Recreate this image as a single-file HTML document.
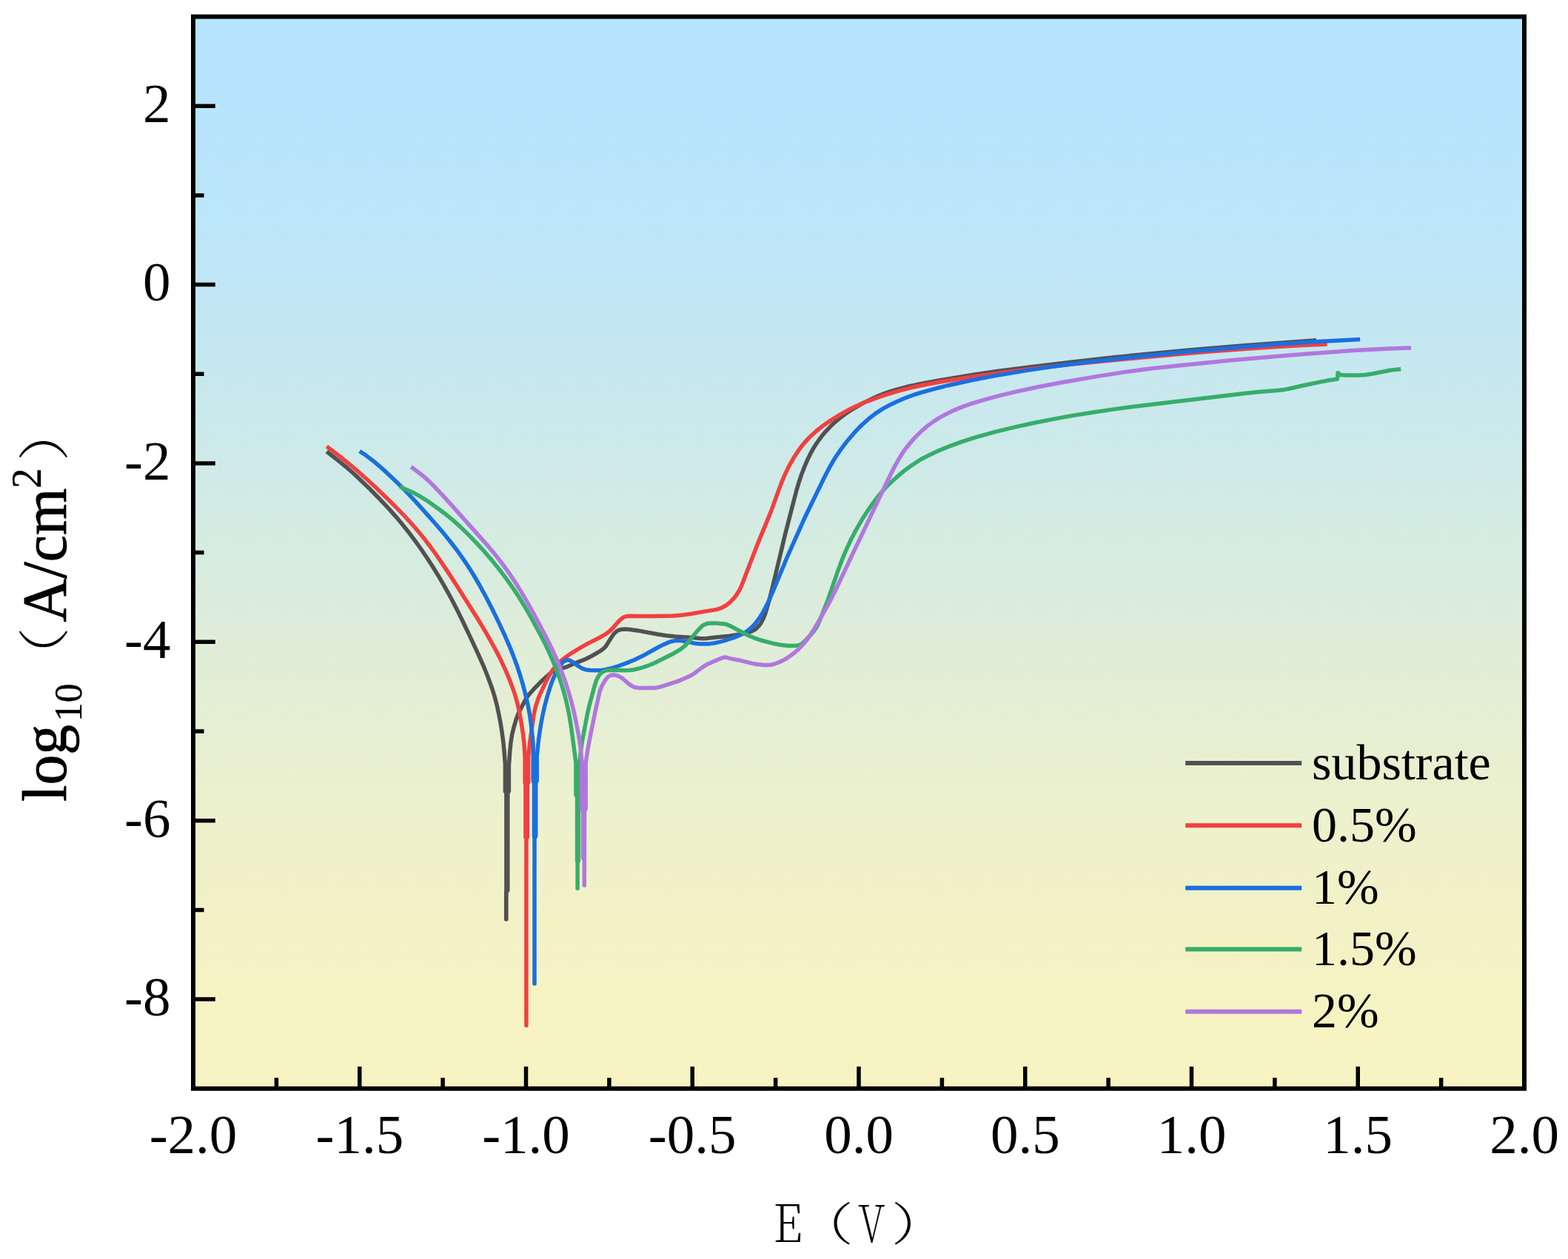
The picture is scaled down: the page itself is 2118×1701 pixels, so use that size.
<!DOCTYPE html>
<html lang="en">
<head>
<meta charset="utf-8">
<title>Polarization curves</title>
<style>
html,body{margin:0;padding:0;background:#fff;}
body{width:2118px;height:1701px;overflow:hidden;}
svg{display:block;}
text{font-family:"Liberation Serif","Noto Serif CJK SC",serif;fill:#000;}
.tk{font-size:75px;}
.lg{font-size:68px;}
.yl{font-size:81.5px;stroke:#000;stroke-width:0.8px;stroke-linejoin:round;}
.yp{font-family:"Noto Serif CJK SC","Liberation Serif",serif;font-weight:200;font-size:67.6px;}
.xl{font-family:"Noto Serif CJK SC","Liberation Serif",serif;font-weight:200;}
.crv{fill:none;stroke-width:5.5;stroke-linejoin:round;stroke-linecap:butt;}
</style>
</head>
<body>
<svg width="2118" height="1701" viewBox="0 0 2118 1701">
<defs><linearGradient id="bg" x1="0" y1="0" x2="0" y2="1">
<stop offset="0.0000" stop-color="#B6E4FF"/>
<stop offset="0.0417" stop-color="#B6E4FF"/>
<stop offset="0.0833" stop-color="#B7E4FE"/>
<stop offset="0.1250" stop-color="#B9E5FC"/>
<stop offset="0.1667" stop-color="#BBE5FA"/>
<stop offset="0.2083" stop-color="#BDE6F8"/>
<stop offset="0.2500" stop-color="#C0E6F5"/>
<stop offset="0.2917" stop-color="#C3E7F2"/>
<stop offset="0.3333" stop-color="#C7E8EF"/>
<stop offset="0.3750" stop-color="#CBE9EC"/>
<stop offset="0.4167" stop-color="#CEEAE8"/>
<stop offset="0.4583" stop-color="#D2EBE4"/>
<stop offset="0.5000" stop-color="#D6ECE0"/>
<stop offset="0.5417" stop-color="#DBECDD"/>
<stop offset="0.5833" stop-color="#DFEDD9"/>
<stop offset="0.6250" stop-color="#E2EED5"/>
<stop offset="0.6667" stop-color="#E6EFD2"/>
<stop offset="0.7083" stop-color="#EAF0CF"/>
<stop offset="0.7500" stop-color="#EDF1CC"/>
<stop offset="0.7917" stop-color="#F0F1C9"/>
<stop offset="0.8333" stop-color="#F2F2C7"/>
<stop offset="0.8750" stop-color="#F4F2C5"/>
<stop offset="0.9167" stop-color="#F6F3C3"/>
<stop offset="0.9583" stop-color="#F7F3C2"/>
<stop offset="1.0000" stop-color="#F7F3C2"/>
</linearGradient></defs>
<rect x="0" y="0" width="2118" height="1701" fill="#ffffff"/>
<rect x="261.0" y="22.5" width="1798.0" height="1448.25" fill="url(#bg)"/>
<path class="crv" stroke="#515151" d="M441.3 610.0 L455.8 621.3 L468.1 631.4 L476.6 638.8 L488.2 649.7 L500.0 661.1 L512.1 673.4 L525.5 687.7 L534.8 698.1 L542.3 707.0 L551.1 717.9 L560.1 729.9 L568.5 741.5 L576.8 753.8 L584.6 765.7 L592.1 777.9 L599.7 790.8 L608.4 806.5 L616.5 822.1 L625.7 840.7 L638.0 866.6 L647.5 887.1 L654.3 902.7 L659.3 915.3 L664.2 928.7 L667.8 940.0 L670.8 951.2 L673.3 962.6 L676.4 978.6 L678.4 991.7 L680.1 1005.0 L681.2 1016.8 L682.4 1033.0 L682.4 1033.0 L682.4 1069.0 L683.9 1072.0 L683.9 1242.0 L683.7 1242.0 L683.7 1206.0 L685.8 1203.0 L685.8 1072.0 L687.4 1069.0 L687.4 1035.4 L687.4 1035.4 L688.7 1015.8 L689.9 1003.8 L691.6 992.9 L693.7 984.1 L697.3 971.5 L700.1 964.0 L708.6 947.4 L711.2 942.9 L714.3 938.6 L721.5 930.5 L730.9 920.8 L740.8 911.8 L745.2 908.2 L747.3 906.7 L749.6 905.5 L751.9 904.6 L761.4 902.3 L766.6 900.6 L780.4 894.6 L790.5 890.7 L797.4 887.3 L807.6 881.5 L812.3 878.6 L814.8 876.6 L816.9 874.7 L818.7 872.6 L825.5 861.7 L828.7 857.0 L830.4 855.1 L832.5 853.2 L834.6 851.8 L837.7 850.7 L839.8 850.3 L844.8 850.1 L850.8 850.5 L861.3 851.9 L888.8 857.0 L900.2 858.8 L912.0 860.0 L935.5 861.4 L945.3 862.6 L950.3 862.8 L954.6 862.6 L965.1 861.2 L985.1 859.2 L993.7 857.9 L1002.8 856.2 L1010.6 854.5 L1016.0 852.7 L1019.5 850.8 L1023.0 847.8 L1026.4 843.9 L1028.0 841.5 L1030.6 836.7 L1033.4 829.9 L1035.7 822.6 L1039.1 810.7 L1043.7 792.6 L1060.8 721.0 L1075.9 662.4 L1079.0 652.0 L1082.8 640.7 L1086.9 630.0 L1091.8 618.9 L1095.5 611.6 L1098.5 606.2 L1101.5 601.2 L1106.1 594.5 L1111.1 587.9 L1114.7 583.6 L1122.6 575.3 L1126.6 571.5 L1132.9 566.1 L1141.4 559.6 L1146.4 556.2 L1153.8 551.5 L1167.2 543.9 L1180.5 537.4 L1186.5 534.8 L1194.7 531.6 L1202.7 528.9 L1211.0 526.3 L1227.7 522.0 L1247.9 517.8 L1277.5 512.4 L1316.9 506.0 L1347.2 501.5 L1390.4 495.9 L1446.9 489.2 L1507.0 482.6 L1557.9 477.4 L1608.7 472.8 L1681.2 466.7 L1719.2 463.9 L1778.0 459.8"/>
<path class="crv" stroke="#F14040" d="M441.3 603.1 L458.4 616.1 L470.5 625.8 L479.7 633.5 L494.4 646.5 L507.5 658.6 L524.0 674.4 L538.0 688.4 L549.9 700.8 L558.2 710.1 L566.0 719.1 L573.4 728.3 L580.7 737.8 L588.5 748.5 L596.8 760.6 L605.7 773.9 L617.0 791.3 L645.5 836.5 L654.5 851.4 L663.2 866.7 L670.3 879.6 L676.9 892.6 L683.2 906.1 L688.0 917.7 L692.9 930.6 L695.8 939.1 L698.9 950.2 L701.5 961.9 L704.5 978.4 L706.5 991.9 L708.0 1005.2 L709.1 1021.6 L709.1 1021.6 L709.1 1057.0 L709.9 1060.0 L709.9 1131.0 L710.9 1134.0 L710.9 1385.5 L710.9 1134.0 L712.3 1131.0 L712.3 1060.0 L713.7 1057.0 L713.7 1021.6 L713.7 1021.6 L715.6 1004.0 L720.7 967.7 L722.2 960.2 L723.4 955.1 L726.7 944.8 L729.5 937.9 L738.0 919.9 L742.0 912.4 L745.0 907.5 L748.3 903.0 L753.5 897.1 L757.2 893.5 L763.2 888.6 L772.5 882.1 L785.7 874.1 L795.6 868.6 L809.9 861.5 L814.5 858.9 L818.7 856.2 L822.9 853.1 L826.8 849.6 L834.3 841.0 L837.5 837.7 L840.0 835.6 L841.8 834.3 L843.6 833.4 L846.5 832.6 L850.4 832.3 L862.8 832.6 L882.5 832.5 L897.7 832.3 L909.5 831.9 L922.5 830.9 L933.8 829.3 L950.3 826.4 L964.3 824.1 L969.0 823.1 L972.0 822.2 L976.8 820.2 L981.5 817.4 L985.9 813.8 L990.2 809.4 L994.0 804.9 L995.7 802.4 L998.8 797.3 L1001.2 792.4 L1023.7 734.1 L1041.9 689.9 L1052.6 660.1 L1056.6 649.8 L1059.7 642.4 L1064.0 633.3 L1068.0 625.8 L1072.4 618.1 L1079.2 607.7 L1082.8 603.0 L1086.5 598.4 L1092.7 591.6 L1101.4 583.5 L1110.2 576.3 L1121.3 568.5 L1135.2 559.9 L1147.8 553.0 L1155.4 549.3 L1165.4 544.8 L1172.8 541.8 L1183.1 538.0 L1194.2 534.2 L1205.4 530.7 L1216.5 527.4 L1230.5 523.8 L1248.0 520.0 L1274.3 515.2 L1307.6 509.9 L1344.8 504.6 L1396.4 497.9 L1444.0 492.5 L1497.5 487.2 L1574.8 480.0 L1636.7 474.8 L1693.7 470.5 L1741.0 467.6 L1792.7 464.9"/>
<path class="crv" stroke="#1A6FDF" d="M485.7 609.4 L494.0 615.1 L502.6 621.5 L511.4 628.8 L522.2 638.4 L536.2 651.7 L548.4 663.9 L560.6 676.8 L574.6 692.3 L588.7 708.2 L599.0 720.3 L607.7 731.0 L617.1 743.2 L625.6 755.1 L632.4 765.3 L640.4 778.0 L647.4 790.0 L655.4 804.6 L663.9 821.1 L673.0 839.5 L680.9 856.4 L688.2 873.2 L692.8 884.4 L697.9 898.2 L702.3 911.4 L706.4 925.1 L710.7 942.0 L713.2 953.3 L715.4 964.8 L717.7 981.1 L719.4 997.4 L720.1 1008.3 L720.2 1021.6 L720.2 1021.6 L720.2 1055.0 L721.5 1058.0 L721.5 1130.0 L722.0 1133.0 L722.0 1329.0 L722.0 1133.0 L723.7 1130.0 L723.7 1058.0 L725.2 1055.0 L725.2 1021.6 L725.2 1021.6 L727.7 998.2 L730.5 979.3 L732.6 968.2 L734.3 960.2 L736.1 952.4 L739.0 941.8 L743.9 925.7 L745.7 920.7 L747.8 915.7 L751.5 908.5 L756.6 899.5 L759.8 895.2 L761.7 893.5 L764.1 892.2 L766.5 891.7 L768.8 892.0 L771.4 893.0 L773.4 894.3 L779.6 898.9 L785.3 902.5 L787.9 903.7 L790.5 904.6 L792.9 905.1 L797.0 905.6 L807.2 905.7 L813.2 905.4 L818.7 904.5 L826.4 902.6 L834.7 900.0 L845.6 896.1 L857.0 891.5 L867.7 886.3 L885.4 876.5 L893.7 872.1 L901.8 868.4 L906.5 866.7 L912.0 865.6 L914.3 865.4 L919.0 865.5 L926.5 866.6 L938.6 869.2 L946.4 870.1 L951.9 870.1 L957.7 869.9 L965.7 868.8 L972.9 867.1 L982.1 864.5 L990.0 861.9 L997.2 859.1 L1002.5 856.7 L1007.4 853.8 L1011.8 850.7 L1015.8 847.1 L1019.6 843.1 L1025.0 836.1 L1030.7 827.1 L1035.8 817.4 L1039.7 809.0 L1044.5 797.9 L1064.1 750.8 L1086.6 700.3 L1114.1 643.7 L1121.2 630.2 L1128.4 618.0 L1136.0 606.8 L1144.5 595.7 L1154.4 584.2 L1160.4 577.8 L1164.6 573.7 L1173.8 565.5 L1182.7 558.6 L1191.9 552.6 L1202.8 546.7 L1210.0 543.2 L1220.2 538.8 L1230.5 534.8 L1235.6 533.0 L1245.1 530.1 L1260.2 525.8 L1280.7 520.7 L1310.0 514.2 L1342.6 507.9 L1384.3 500.9 L1421.9 495.3 L1461.6 490.1 L1507.0 484.9 L1554.8 479.9 L1600.0 475.6 L1689.0 468.0 L1726.8 465.1 L1781.2 461.5 L1837.1 458.6"/>
<path class="crv" stroke="#37AD6B" d="M540.2 657.6 L551.3 662.4 L560.1 666.6 L568.2 671.1 L576.2 676.1 L590.6 686.2 L601.3 694.2 L611.6 702.6 L622.2 712.1 L632.5 722.1 L644.4 734.3 L654.1 745.0 L664.8 757.4 L675.5 770.7 L684.3 782.3 L693.1 794.8 L700.7 806.3 L710.3 822.0 L719.6 838.3 L727.9 853.6 L735.8 869.1 L740.8 879.4 L746.7 892.6 L751.9 905.6 L756.1 917.2 L760.5 930.9 L763.5 941.7 L766.0 952.4 L768.8 965.9 L770.2 974.0 L771.9 984.8 L777.9 1030.4 L777.9 1030.4 L778.0 1074.0 L779.6 1077.0 L779.6 1163.0 L780.1 1166.0 L780.1 1200.3 L780.1 1166.0 L781.3 1163.0 L781.3 1077.0 L783.0 1074.0 L783.0 1030.0 L783.0 1030.0 L785.1 1010.5 L786.6 1000.2 L793.7 963.1 L796.2 952.3 L800.1 938.3 L803.1 926.7 L805.6 919.1 L807.8 914.7 L809.0 912.8 L810.6 910.8 L812.5 909.1 L814.4 907.8 L816.3 906.7 L819.0 905.9 L821.9 905.4 L827.6 905.3 L844.5 905.8 L850.1 905.6 L855.1 905.0 L862.6 903.3 L870.1 901.2 L877.6 898.5 L885.2 895.2 L910.1 882.7 L916.9 878.7 L921.1 875.9 L925.1 872.5 L926.9 870.7 L940.6 853.9 L947.5 846.6 L949.2 845.1 L951.4 843.8 L954.1 842.8 L956.2 842.3 L961.7 842.0 L967.6 842.1 L978.3 842.9 L981.7 843.7 L987.3 846.1 L1007.7 857.0 L1012.8 859.4 L1018.6 861.8 L1024.1 863.8 L1029.6 865.5 L1046.4 869.8 L1052.1 870.9 L1060.1 871.9 L1066.1 872.4 L1072.5 872.4 L1077.9 871.9 L1080.1 871.4 L1082.6 870.1 L1084.5 868.7 L1093.2 859.9 L1098.6 853.7 L1102.1 848.9 L1104.7 844.2 L1107.6 837.6 L1116.9 814.1 L1121.8 800.4 L1132.6 769.1 L1137.7 755.6 L1142.0 745.2 L1147.9 732.3 L1155.4 717.6 L1163.7 703.1 L1170.9 691.7 L1180.0 678.6 L1187.9 668.3 L1196.2 658.9 L1204.5 650.7 L1211.9 644.1 L1219.2 637.9 L1225.5 632.9 L1230.7 629.2 L1241.0 622.5 L1244.3 620.5 L1252.8 616.1 L1268.6 608.6 L1282.7 602.8 L1299.0 596.8 L1318.5 590.7 L1343.7 583.7 L1369.4 577.4 L1395.0 571.7 L1423.3 566.1 L1446.4 561.9 L1472.3 557.7 L1503.2 553.1 L1530.0 549.5 L1677.1 532.1 L1700.0 529.6 L1725.0 527.5 L1734.9 526.4 L1742.1 525.0 L1760.7 520.8 L1784.1 515.9 L1794.9 513.8 L1806.5 512.1 L1806.5 512.1 L1807.1 503.5 L1810.2 506.5 L1810.2 506.5 L1819.4 507.0 L1827.7 507.1 L1835.7 507.0 L1844.0 506.5 L1855.0 504.8 L1877.7 500.3 L1884.3 499.4 L1892.2 498.7"/>
<path class="crv" stroke="#B177DE" d="M555.2 630.7 L565.1 638.0 L573.1 644.4 L580.5 651.1 L586.4 657.0 L599.9 671.3 L609.0 681.3 L656.7 734.9 L664.7 744.3 L672.2 753.5 L679.8 763.5 L685.1 770.6 L691.6 780.1 L696.6 787.6 L703.6 799.0 L710.2 810.2 L719.9 827.3 L728.6 843.5 L738.0 861.5 L744.7 875.0 L749.6 885.7 L754.6 897.1 L758.9 908.2 L763.7 921.3 L767.8 934.0 L771.6 947.2 L774.9 960.6 L778.4 976.7 L781.5 992.8 L783.6 1006.2 L784.9 1017.5 L786.0 1030.4 L786.0 1030.4 L786.0 1093.0 L787.5 1096.0 L787.5 1159.0 L789.3 1162.0 L789.3 1196.3 L789.4 1162.0 L789.5 1096.0 L791.2 1093.0 L791.2 1030.4 L791.2 1030.4 L794.0 1012.0 L796.7 997.4 L803.8 962.5 L809.8 935.4 L810.4 933.1 L812.6 927.7 L816.7 920.3 L819.5 916.3 L820.9 914.8 L823.0 913.3 L825.3 912.3 L827.6 911.9 L830.2 912.0 L833.0 912.7 L835.5 913.6 L839.4 915.6 L841.5 917.1 L847.8 922.7 L851.9 925.8 L856.2 928.1 L858.5 928.8 L862.4 929.4 L876.0 929.5 L882.3 929.5 L887.6 929.1 L893.2 927.7 L912.7 921.4 L920.2 918.6 L927.7 915.3 L932.7 912.9 L937.6 910.0 L948.4 901.9 L952.9 898.9 L955.4 897.5 L965.5 892.9 L973.4 889.7 L977.5 888.3 L979.1 888.0 L980.8 888.2 L988.0 890.1 L1000.2 892.3 L1015.1 896.1 L1022.1 897.5 L1032.3 898.5 L1037.8 898.6 L1040.7 898.3 L1043.8 897.7 L1048.4 896.3 L1053.4 894.3 L1058.6 891.8 L1063.6 888.8 L1070.3 884.0 L1074.4 880.8 L1078.5 877.2 L1082.4 873.2 L1087.9 867.0 L1092.7 860.5 L1097.2 853.9 L1101.5 846.9 L1107.5 836.7 L1116.4 820.9 L1122.2 810.0 L1130.0 794.6 L1147.7 756.9 L1200.3 646.4 L1209.4 628.5 L1216.2 616.6 L1222.0 607.9 L1228.9 599.0 L1236.4 590.6 L1245.1 582.1 L1251.7 576.4 L1260.8 569.6 L1268.1 564.9 L1278.6 559.2 L1286.2 555.4 L1293.9 552.1 L1301.9 548.9 L1313.6 544.9 L1325.3 541.3 L1340.2 537.2 L1355.9 533.1 L1372.7 529.1 L1402.1 522.7 L1436.7 516.2 L1482.6 508.4 L1524.3 501.9 L1556.2 497.8 L1596.7 493.4 L1660.2 487.1 L1714.7 482.2 L1766.7 478.0 L1827.6 473.6 L1871.4 471.2 L1896.7 470.2 L1906.0 470.0"/>
<rect x="261.0" y="22.5" width="1798.0" height="1448.25" fill="none" stroke="#000" stroke-width="6"/>
<path d="M373.38 1470.75 V1456.25 M485.75 1470.75 V1441.00 M598.12 1470.75 V1456.25 M710.50 1470.75 V1441.00 M822.88 1470.75 V1456.25 M935.25 1470.75 V1441.00 M1047.62 1470.75 V1456.25 M1160.00 1470.75 V1441.00 M1272.38 1470.75 V1456.25 M1384.75 1470.75 V1441.00 M1497.12 1470.75 V1456.25 M1609.50 1470.75 V1441.00 M1721.88 1470.75 V1456.25 M1834.25 1470.75 V1441.00 M1946.62 1470.75 V1456.25 M261.00 1350.06 H290.75 M261.00 1229.38 H275.50 M261.00 1108.69 H290.75 M261.00 988.00 H275.50 M261.00 867.31 H290.75 M261.00 746.62 H275.50 M261.00 625.94 H290.75 M261.00 505.25 H275.50 M261.00 384.56 H290.75 M261.00 263.88 H275.50 M261.00 143.19 H290.75" stroke="#000" stroke-width="5.5" fill="none"/>
<text class="tk" x="261.0" y="1558" text-anchor="middle">-2.0</text>
<text class="tk" x="485.8" y="1558" text-anchor="middle">-1.5</text>
<text class="tk" x="710.5" y="1558" text-anchor="middle">-1.0</text>
<text class="tk" x="935.2" y="1558" text-anchor="middle">-0.5</text>
<text class="tk" x="1160.0" y="1558" text-anchor="middle">0.0</text>
<text class="tk" x="1384.8" y="1558" text-anchor="middle">0.5</text>
<text class="tk" x="1609.5" y="1558" text-anchor="middle">1.0</text>
<text class="tk" x="1834.2" y="1558" text-anchor="middle">1.5</text>
<text class="tk" x="2059.0" y="1558" text-anchor="middle">2.0</text>
<text class="tk" x="230.5" y="165.0" text-anchor="end">2</text>
<text class="tk" x="230.5" y="406.4" text-anchor="end">0</text>
<text class="tk" x="230.5" y="647.7" text-anchor="end">-2</text>
<text class="tk" x="230.5" y="889.1" text-anchor="end">-4</text>
<text class="tk" x="230.5" y="1130.5" text-anchor="end">-6</text>
<text class="tk" x="230.5" y="1371.9" text-anchor="end">-8</text>
<g transform="translate(88.6,1083.2) rotate(-90) scale(1,1.03)">
<text class="yl" x="0" y="0">log</text>
<text class="yl" x="108.1" y="20.6" style="font-size:51.5px;stroke-width:0.35px">10</text>
<text class="yp" transform="translate(157.1,-3.4) scale(1.168,1)" x="0" y="0">（</text>
<text class="yl" x="242.5" y="0">A/cm</text>
<text class="yl" x="423.1" y="-33.1" style="font-size:55px;stroke-width:0.35px">2</text>
<text class="yp" transform="translate(459.9,-3.4) scale(1.168,1)" x="0" y="0">）</text>
</g>
<text class="xl" transform="translate(1044.3,1678.2) scale(0.875,1)" x="0" y="0" style="font-size:70.2px">E</text>
<text class="xl" transform="translate(1076.8,1675.6) scale(1.235,1)" x="0" y="0" style="font-size:61.6px">（</text>
<text class="xl" transform="translate(1159.5,1677.9) scale(0.729,1)" x="0" y="0" style="font-size:69.7px">V</text>
<text class="xl" transform="translate(1203.8,1675.6) scale(1.235,1)" x="0" y="0" style="font-size:61.6px">）</text>
<line x1="1601.25" y1="1031" x2="1758.25" y2="1031" stroke="#515151" stroke-width="6"/>
<text class="lg" x="1772" y="1052.5">substrate</text>
<line x1="1601.25" y1="1115.25" x2="1758.25" y2="1115.25" stroke="#F14040" stroke-width="6"/>
<text class="lg" x="1772" y="1136.75">0.5%</text>
<line x1="1601.25" y1="1199.75" x2="1758.25" y2="1199.75" stroke="#1A6FDF" stroke-width="6"/>
<text class="lg" x="1772" y="1221.25">1%</text>
<line x1="1601.25" y1="1282.5" x2="1758.25" y2="1282.5" stroke="#37AD6B" stroke-width="6"/>
<text class="lg" x="1772" y="1304.0">1.5%</text>
<line x1="1601.25" y1="1366.75" x2="1758.25" y2="1366.75" stroke="#B177DE" stroke-width="6"/>
<text class="lg" x="1772" y="1388.25">2%</text>
</svg>
</body>
</html>
